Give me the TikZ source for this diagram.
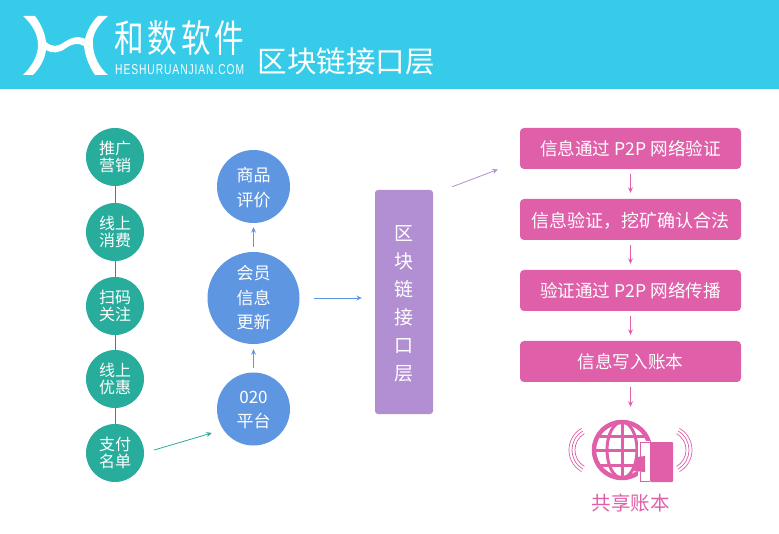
\documentclass[tikz,border=0pt]{standalone}
\usepackage{fontspec}
\usepackage{graphicx}
\setmainfont{Noto Sans CJK SC}
\newfontfamily\latinfont{Liberation Sans}
\usetikzlibrary{arrows.meta}
\definecolor{hdr}{HTML}{35CBE9}
\definecolor{teal1}{HTML}{28AC9C}
\definecolor{blue1}{HTML}{5E96E2}
\definecolor{purple1}{HTML}{B28FD2}
\definecolor{pink1}{HTML}{DF60A9}
\newcommand{\dnbox}[2]{\raisebox{-#1pt}[\height][\depth]{#2}}
\tikzset{
  tealc/.style={circle,fill=teal1,text=white,minimum size=58pt,inner sep=0pt,align=center,font=\fontsize{16}{17.5}\selectfont},
  bluec/.style={circle,fill=blue1,text=white,inner sep=0pt,align=center,font=\fontsize{17}{24.5}\selectfont},
  stepbox/.style={rectangle,rounded corners=4pt,fill=pink1,text=white,minimum width=221pt,minimum height=41pt,inner sep=0pt,font=\fontsize{17.6}{20}\selectfont},
  qkbox/.style={rectangle,rounded corners=3pt,fill=purple1,text=white,minimum width=58pt,minimum height=224pt,inner sep=0pt,align=center,font=\fontsize{19}{28}\selectfont},
  tip/.style={-{Stealth[length=5.5pt,width=5pt,inset=2pt]},line width=0.8pt},
  wave/.style={pink1,line width=0.7pt}
}
\begin{document}
\begin{tikzpicture}[x=1pt,y=-1pt]
\useasboundingbox (0,0) rectangle (779,534);
\fill[white] (0,0) rectangle (779,534);
\fill[hdr] (0,0) rectangle (779,89);
% logo
\fill[white] (23,16) -- (35,16) .. controls (41,24) and (45,33) .. (46,42)
  .. controls (52,47) and (57,47) .. (63,43)
  .. controls (70,38) and (78,35) .. (85,39)
  .. controls (87,31) and (91,23) .. (98,16) -- (108,16)
  .. controls (95,28) and (92,36) .. (93,46)
  .. controls (94,57) and (99,67) .. (108,75) -- (95,75)
  .. controls (89,66) and (85,56) .. (84,46)
  .. controls (78,42) and (72,44) .. (66,48)
  .. controls (60,53) and (52,54) .. (46,50)
  .. controls (45,58) and (41,67) .. (33,75) -- (23,75)
  .. controls (34,64) and (38,54) .. (38,45)
  .. controls (38,35) and (33,25) .. (23,16) -- cycle;
\node[text=white,anchor=west,inner sep=0pt] (brand) at (114,38) {\scalebox{0.78}[1]{\fontsize{38}{40}\selectfont\addfontfeature{LetterSpace=13}和数软件}};
\node[text=white,anchor=west,inner sep=0pt] (url) at (115,70) {\resizebox{129pt}{10pt}{\latinfont\addfontfeature{LetterSpace=9}HESHURUANJIAN.COM}};
\node[text=white,anchor=west,inner sep=0pt,font=\fontsize{29.5}{32}\selectfont] (title) at (257.5,61) {区块链接口层};
% left column
\node[tealc] (t1) at (115,157) {推广\\营销};
\node[tealc] (t2) at (115,232) {线上\\消费};
\node[tealc] (t3) at (115,306) {扫码\\关注};
\node[tealc] (t4) at (115,379) {线上\\优惠};
\node[tealc] (t5) at (115,453) {支付\\名单};
\foreach \a/\b in {t1/t2,t2/t3,t3/t4,t4/t5} \draw[teal1!85!black,line width=0.8pt] (\a) -- (\b);
% middle column
\node[bluec,minimum size=73pt] (o2o) at (253.5,409) {\dnbox{1}{020}\\\dnbox{1}{平台}};
\node[bluec,minimum size=92pt] (hy) at (253.5,298) {会员\\信息\\更新};
\node[bluec,minimum size=73pt] (sp) at (253.5,186.5) {\dnbox{1}{商品}\\\dnbox{1}{评价}};
\draw[tip,blue1] ([yshift=4]o2o.north) -- ([yshift=-5]hy.south);
\draw[tip,blue1] ([yshift=5]hy.north) -- ([yshift=-4]sp.south);
\draw[tip,teal1] ([shift={(10,-3)}]t5.east) -- ([shift={(-5,24)}]o2o.west);
% block
\node[qkbox] (qk) at (404,302) {\dnbox{2}{区}\\\dnbox{2}{块}\\\dnbox{2}{链}\\\dnbox{2}{接}\\\dnbox{2}{口}\\\dnbox{2}{层}};
\draw[tip,blue1] ([xshift=14]hy.east) -- ([shift={(-13,-4)}]qk.west);
% steps
\node[stepbox] (s1) at (630.5,148.5) {信息通过 P2P 网络验证};
\node[stepbox] (s2) at (630.5,219.5) {\dnbox{1.5}{\fontsize{18}{20}\selectfont 信息验证，挖矿确认合法}};
\node[stepbox] (s3) at (630.5,290.5) {验证通过 P2P 网络传播};
\node[stepbox] (s4) at (630.5,361.5) {信息写入账本};
\draw[tip,purple1] ([shift={(19,-3)}]qk.north east) -- ([shift={(-22,21)}]s1.west);
\draw[tip,pink1] ([yshift=-5]s1.south) -- ([yshift=6]s2.north);
\draw[tip,pink1] ([yshift=-5]s2.south) -- ([yshift=6]s3.north);
\draw[tip,pink1] ([yshift=-5]s3.south) -- ([yshift=6]s4.north);
% globe
\node[circle,draw=pink1,line width=4.5pt,minimum size=56pt,inner sep=0pt] (globe) at (622,450) {};
\draw[tip,pink1] ([yshift=-5]s4.south) -- ([shift={(8.5,-13)}]globe.north);
\begin{scope}[pink1,line width=3pt]
  \draw (622,422) -- (622,478);
  \draw (595,450) -- (649,450);
  \draw (599,436) -- (645,436);
  \draw (599,465) -- (645,465);
  \draw (622,450) ellipse [x radius=15,y radius=28];
\end{scope}
\fill[white] (638,441) rectangle (650,483);
\draw[pink1,line width=1pt] (650,442.5) -- (640,442.5) -- (640,481.5) -- (650,481.5);
\fill[pink1,rounded corners=1pt] (650,442) rectangle (673,482);
\fill[pink1] (634,471) -- (637,457) -- (645,456) -- (645,472) -- cycle;
% waves
\foreach \R in {25,22,19} {
  \draw[wave] ({594-0.5*\R},{450-0.866*\R}) .. controls ({594-1.167*\R},{450-0.481*\R}) and ({594-1.167*\R},{450+0.481*\R}) .. ({594-0.5*\R},{450+0.866*\R});
  \draw[wave] ({667+0.5*\R},{450-0.866*\R}) .. controls ({667+1.167*\R},{450-0.481*\R}) and ({667+1.167*\R},{450+0.481*\R}) .. ({667+0.5*\R},{450+0.866*\R});
}
\node[text=pink1,inner sep=0pt,font=\fontsize{19.5}{22}\selectfont] (ledger) at (630.5,503) {共享账本};
\end{tikzpicture}
\end{document}
